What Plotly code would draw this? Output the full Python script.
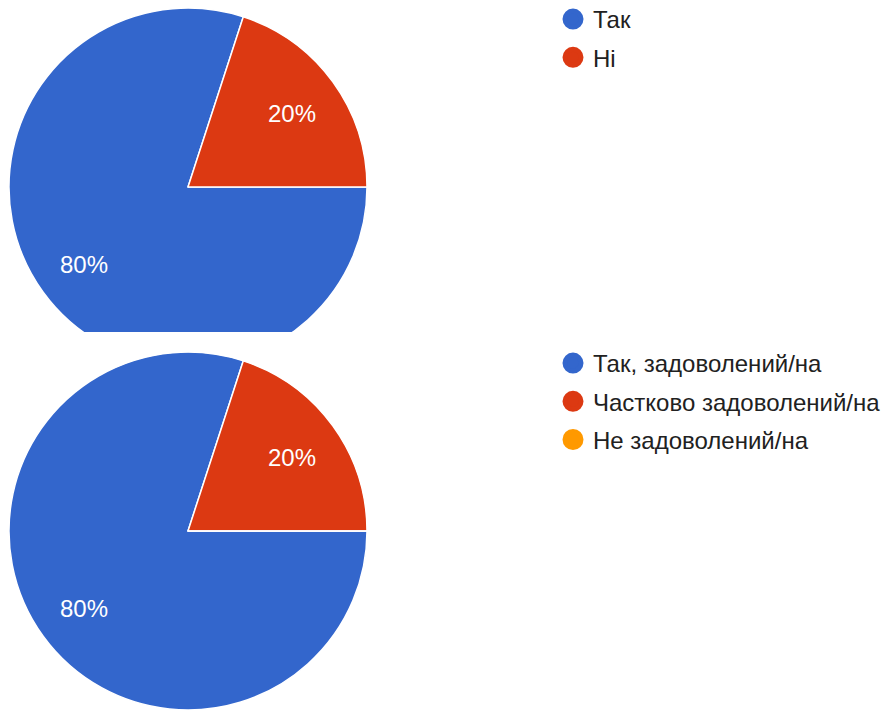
import math
import plotly.graph_objects as go

labels_top = ["Так", "Ні"]
values_top = [80, 20]
labels_bottom = ["Так, задоволений/на", "Частково задоволений/на", "Не задоволений/на"]
values_bottom = [80, 20, 0]
colors = ["#3366cc", "#dc3912", "#ff9900"]

W, H = 882, 710
FONT = "Arial, 'Liberation Sans', sans-serif"


def px_x(p):
    return p / W


def px_y(p):
    return 1 - p / H


fig = go.Figure()

pie_common = dict(
    sort=False, direction="clockwise", rotation=90,
    textinfo="none", showlegend=False, hoverinfo="label+percent",
)

top_dom = dict(x=[px_x(9), px_x(367)], y=[px_y(366), px_y(8)])
bot_dom = dict(x=[px_x(9), px_x(367)], y=[px_y(710), px_y(352)])

fig.add_trace(go.Pie(
    labels=labels_top, values=values_top,
    marker=dict(colors=colors[:2], line=dict(color="white", width=1.5)),
    domain=top_dom, **pie_common,
))
fig.add_trace(go.Pie(
    labels=labels_bottom, values=values_bottom,
    marker=dict(colors=colors[:3], line=dict(color="white", width=1.5)),
    domain=bot_dom, **pie_common,
))


def geom(dom):
    cx = (dom["x"][0] + dom["x"][1]) / 2 * W
    cy = (dom["y"][0] + dom["y"][1]) / 2 * H
    r = min((dom["x"][1] - dom["x"][0]) * W, (dom["y"][1] - dom["y"][0]) * H) / 2
    return cx, cy, r


# percentage labels placed at the mid-angle of each slice (computed from the values)
annotations = []
LABEL_R = 0.72
for vals, dom in [(values_top, top_dom), (values_bottom, bot_dom)]:
    total = sum(vals)
    cx, cy, r = geom(dom)
    cum = 0
    for v in vals:
        if v <= 0:
            continue
        mid = math.radians(-(cum + v / 2) / total * 360)
        cum += v
        annotations.append(dict(
            x=(cx + LABEL_R * r * math.cos(mid)) / W,
            y=(cy + LABEL_R * r * math.sin(mid)) / H,
            xref="paper", yref="paper", showarrow=False, yshift=-2,
            text="%d%%" % round(v / total * 100),
            font=dict(family=FONT, size=24, color="white"),
            xanchor="center", yanchor="middle",
        ))

# white mask cutting the bottom of the upper pie:
# band (pixel y 332..370) minus the cap of the lower pie's disc inside that band
CUT_TOP, CUT_BOT = 332, 370
bcx, bcy_up, br = geom(bot_dom)
bcy = H - bcy_up            # centre in pixels from the top
br -= 0.3
s = (bcy - CUT_BOT) / br
a0 = math.asin(s)
a1 = math.pi - a0
cap = []
n = 120
for k in range(n + 1):
    a = a0 + (a1 - a0) * k / n
    cap.append((bcx + br * math.cos(a), bcy - br * math.sin(a)))


def P(x, y):
    return "%.6f,%.6f" % (x / W, 1 - y / H)


mask_path = "M" + P(0, CUT_TOP) + " L" + P(420, CUT_TOP) + " L" + P(420, CUT_BOT) + \
    " L" + P(0, CUT_BOT) + " Z "
mask_path += "M" + " L".join(P(x, y) for x, y in cap) + " Z"

# legend entries (circle symbols)
for i, lab in enumerate(labels_top):
    fig.add_trace(go.Scatter(
        x=[None], y=[None], mode="markers", name=lab, legend="legend",
        legendgroup="t%d" % i,
        marker=dict(size=16, color=colors[i], line=dict(color=colors[i], width=5)),
    ))
for i, lab in enumerate(labels_bottom):
    fig.add_trace(go.Scatter(
        x=[None], y=[None], mode="markers", name=lab, legend="legend2",
        legendgroup="b%d" % i,
        marker=dict(size=16, color=colors[i], line=dict(color=colors[i], width=5)),
    ))

legend_common = dict(
    font=dict(family=FONT, size=24, color="#212121"),
    bgcolor="rgba(0,0,0,0)", xanchor="left", yanchor="top",
    tracegroupgap=4, itemclick=False, itemdoubleclick=False,
)

fig.update_layout(
    width=W, height=H,
    margin=dict(l=0, r=0, t=0, b=0, autoexpand=False),
    paper_bgcolor="white", plot_bgcolor="white",
    xaxis=dict(visible=False), yaxis=dict(visible=False),
    legend=dict(x=px_x(553), y=px_y(-3), **legend_common),
    legend2=dict(x=px_x(553), y=px_y(341), **legend_common),
    annotations=annotations,
    shapes=[dict(type="path", xref="paper", yref="paper", path=mask_path,
                 fillcolor="white", fillrule="evenodd", line=dict(width=0),
                 layer="above")],
)

fig.write_html("out.html", config={"displayModeBar": False},
               post_script="document.body.style.margin='0px';")
